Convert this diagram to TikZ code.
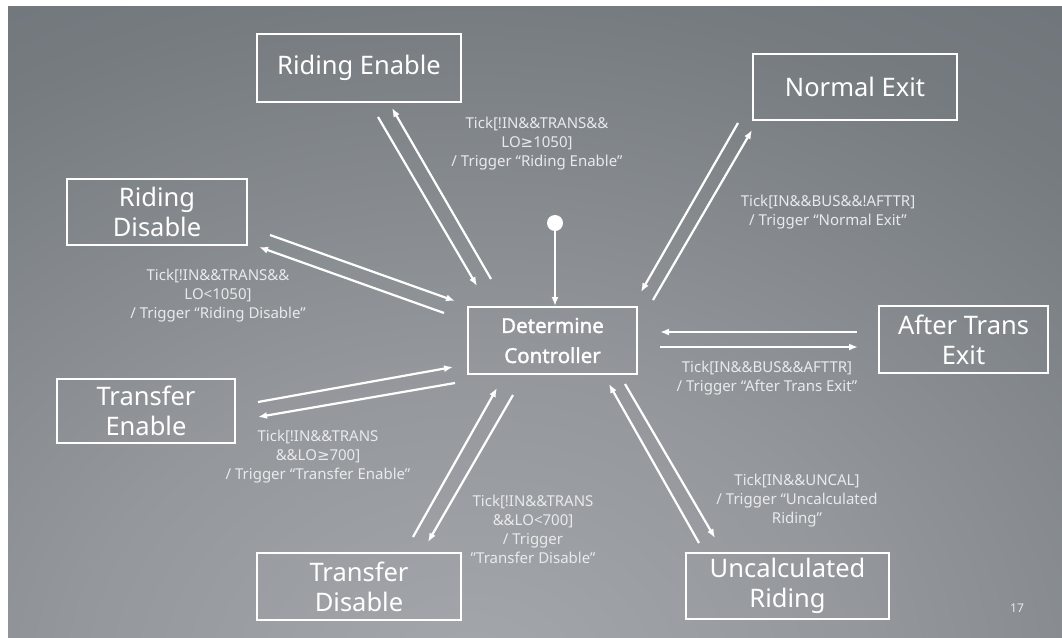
\documentclass[tikz,border=0pt]{standalone}
\usepackage{fontspec}
\setmainfont{Noto Sans}
\newfontfamily\symf{DejaVu Sans}
\newfontfamily\dcfont{Noto Sans}[FakeBold=1.6]
\usetikzlibrary{arrows.meta}
\definecolor{bgdark}{HTML}{5C6369}
\definecolor{bgs1}{HTML}{62696F}
\definecolor{bgmid}{HTML}{767B80}
\definecolor{bgs2}{HTML}{94989C}
\definecolor{bglight}{HTML}{A4A8AC}
\definecolor{lbl}{HTML}{E8EAEC}
\pgfdeclareradialshading{slidebg}{\pgfpointorigin}{color(0bp)=(bglight); color(9bp)=(bgs2); color(20bp)=(bgmid); color(33bp)=(bgs1); color(39bp)=(bgdark); color(50bp)=(bgdark)}
\newcommand{\mygeq}{{\symf ≥}}
\begin{document}
\begin{tikzpicture}[x=1pt, y=-1pt,
  box/.style={draw=white, line width=2pt, text=white, font=\fontsize{25.5}{30}\selectfont, align=center, inner sep=0pt},
  lab/.style={text=lbl, font=\fontsize{15}{19}\selectfont, align=center, inner sep=0pt},
  arr/.style={draw=white, line width=2.2pt, -{Latex[length=9pt,width=7pt]}}]
% background
\fill[white] (0,0) rectangle (1062,637);
\useasboundingbox (0,0) rectangle (1062,637);
\fill[bgdark] (8,6) rectangle (1062,637);
\begin{scope}
  \clip (8,6) rectangle (1062,637);
  \shade[shading=slidebg] (470,680) ellipse [x radius=1100, y radius=860];
\end{scope}
% state boxes
\node[box, minimum width=204pt, minimum height=68pt] (re) at (359,68) {Riding Enable};
\node[box, minimum width=204pt, minimum height=66pt] (ne) at (855,87) {Normal Exit};
\node[box, minimum width=180pt, minimum height=66pt] (rd) at (157,212) {Riding\\Disable};
\node[box, minimum width=178pt, minimum height=64pt] (te) at (146,411) {Transfer\\Enable};
\node[box, minimum width=204pt, minimum height=67pt] (td) at (359,586.5) {Transfer\\Disable};
\node[box, minimum width=203pt, minimum height=66pt] (ur) at (787.5,586) {Uncalculated\\Riding};
\node[box, minimum width=169pt, minimum height=67pt] (ae) at (963.5,339.5) {After Trans\\Exit};
\node[box, minimum width=169pt, minimum height=67pt, font=\dcfont\fontsize{20.5}{30}\selectfont] (dc) at (552.5,340.5) {Determine\\Controller};
% initial state
\node[circle, fill=white, minimum size=16pt, inner sep=0pt] (init) at (555,223) {};
\draw[arr] (init) -- (init |- dc.north);
% connector end points
\coordinate (reA1) at (378,117); \coordinate (reA2) at (477,286);
\coordinate (reB1) at (491,279); \coordinate (reB2) at (392,108);
\coordinate (rdA1) at (270,235); \coordinate (rdA2) at (455,301);
\coordinate (rdB1) at (444,313); \coordinate (rdB2) at (259,247);
\coordinate (teA1) at (258,402); \coordinate (teA2) at (453,367);
\coordinate (teB1) at (455,383); \coordinate (teB2) at (258,417);
\coordinate (tdA1) at (413,537); \coordinate (tdA2) at (497,388);
\coordinate (tdB1) at (513,395); \coordinate (tdB2) at (428,542);
\coordinate (neA1) at (738,123); \coordinate (neA2) at (641,292);
\coordinate (neB1) at (653,300); \coordinate (neB2) at (752,130);
\coordinate (aeA1) at (857,332); \coordinate (aeA2) at (660,332);
\coordinate (aeB1) at (660,347); \coordinate (aeB2) at (858,347);
\coordinate (urA1) at (699,543); \coordinate (urA2) at (609,384);
\coordinate (urB1) at (625,384); \coordinate (urB2) at (715,538);
% connectors
\foreach \p in {re,rd,te,td,ne,ae,ur}{
  \draw[arr] (\p A1) -- (\p A2);
  \draw[arr] (\p B1) -- (\p B2);
}
% labels
\node[lab] (lre) at (537,144) {Tick[!IN\&\&TRANS\&\&\\LO\mygeq1050]\\/ Trigger “Riding Enable”};
\node[lab] (lrd) at (218,296) {Tick[!IN\&\&TRANS\&\&\\LO<1050]\\/ Trigger “Riding Disable”};
\node[lab] (lte) at (318,457) {Tick[!IN\&\&TRANS\\\&\&LO\mygeq700]\\/ Trigger “Transfer Enable”};
\node[lab] (ltd) at (533,529.5) {Tick[!IN\&\&TRANS\\\&\&LO<700]\\/ Trigger\\"Transfer Disable”};
\node[lab] (lne) at (828,212) {Tick[IN\&\&BUS\&\&!AFTTR]\\/ Trigger “Normal Exit”};
\node[lab] (lae) at (767,378.5) {Tick[IN\&\&BUS\&\&AFTTR]\\/ Trigger “After Trans Exit”};
\node[lab] (lur) at (797,500.5) {Tick[IN\&\&UNCAL]\\/ Trigger “Uncalculated\\Riding”};
% page number
\node[text=lbl, font=\fontsize{12}{14}\selectfont, inner sep=0pt] (pg) at (1017,608) {17};
\end{tikzpicture}
\end{document}
